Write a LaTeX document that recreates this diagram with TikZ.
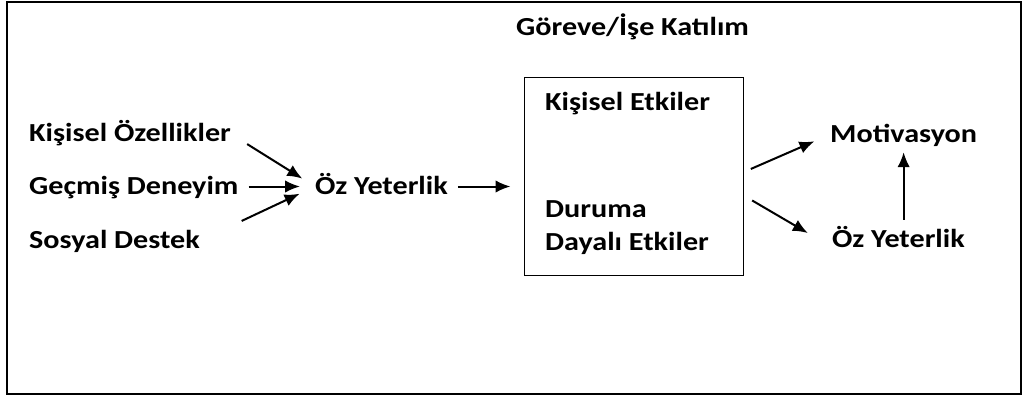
\documentclass[tikz,border=0pt]{standalone}
\usepackage{fontspec}
\setmainfont{Carlito}[FakeStretch=1.16]
\usetikzlibrary{arrows.meta}
\begin{document}
\begin{tikzpicture}[x=1pt,y=-1pt,>={Latex[length=15pt,width=12.5pt]},
  lbl/.style={inner sep=0pt,text height=15pt,text depth=0pt,anchor=base west,
    font=\fontsize{26}{30}\selectfont\bfseries},
  arr/.style={->,line width=2pt}]
  \useasboundingbox (0,0) rectangle (1025,399);
  \draw[line width=2.5pt] (7,2) rectangle (1021,394);
  \node[lbl] (titl) at (516,35) {Göreve/İşe Katılım};
  \node[draw,line width=1pt,minimum width=219pt,minimum height=198pt,inner sep=0pt] (etki) at (633.5,176) {};
  \node[lbl] (kise) at (545,110) {Kişisel Etkiler};
  \node[lbl] (dur1) at (545,217) {Duruma};
  \node[lbl] (dur2) at (545,250) {Dayalı Etkiler};
  \foreach \nm/\yy/\txt in {kis/141.5/Kişisel Özellikler,gec/194/Geçmiş Deneyim,sos/248/Sosyal Destek}
    \node[lbl] (\nm) at (29,\yy) {\txt};
  \node[lbl] (ozm) at (315,194) {Öz Yeterlik};
  \node[lbl] (mot) at (830,142) {Motivasyon};
  \node[lbl] (ozr) at (832,247) {Öz Yeterlik};
  \draw[arr,shorten <=19pt,shorten >=15pt] (kis.east) -- (ozm.west);
  \draw[arr,shorten <=10pt,shorten >=15pt] (gec.east) -- (gec.east -| ozm.west);
  \draw[arr,shorten <=46pt,shorten >=17pt] (sos.east) -- (ozm.west);
  \draw[arr,shorten <=10pt,shorten >=13pt] (ozm.east) -- (ozm.east -| etki.west);
  \draw[arr,shorten <=8pt,shorten >=17pt] (etki.2) -- (mot.west);
  \draw[arr,shorten <=10pt,shorten >=28pt] (etki.-10) -- (ozr.south west);
  \draw[arr,shorten <=12pt,shorten >=10pt] (mot.south |- ozr.north) -- (mot.south);
\end{tikzpicture}
\end{document}
